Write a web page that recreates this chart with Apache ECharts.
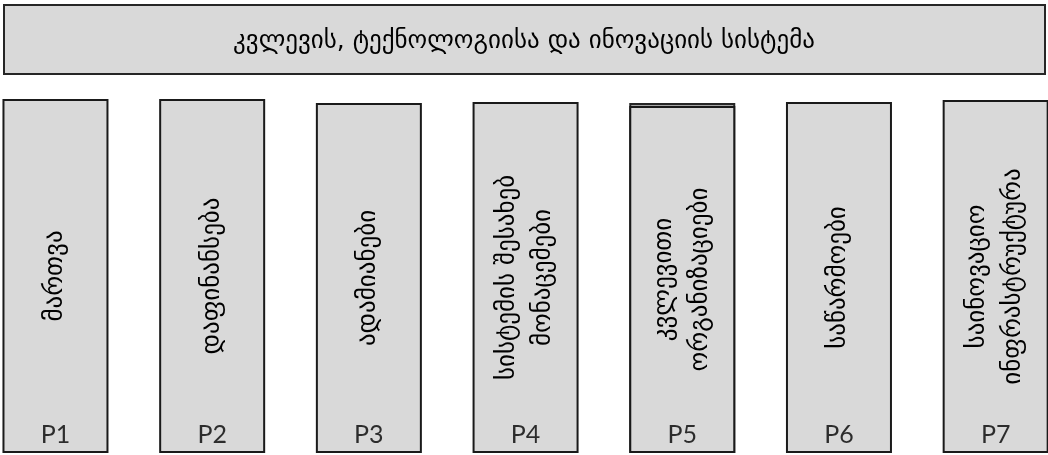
<!DOCTYPE html>
<html>
<head>
<meta charset="utf-8">
<script src="https://cdn.jsdelivr.net/npm/echarts@6/dist/echarts.min.js"></script>
<style>
html,body{margin:0;padding:0;background:#fff;}
#main{width:1048px;height:455px;}
</style>
</head>
<body>
<div id="main"></div>
<script>
const titleText = 'კვლევის, ტექნოლოგიისა და ინოვაციის სისტემა';
const categories = ['P1', 'P2', 'P3', 'P4', 'P5', 'P6', 'P7'];
const boxLabels = [
  'მართვა',
  'დაფინანსება',
  'ადამიანები',
  'სისტემის შესახებ\nმონაცემები',
  'კვლევითი\nორგანიზაციები',
  'საწარმოები',
  'საინოვაციო\nინფრასტრუქტურა'
];
const boxHeights = [354, 354, 350, 351, 347, 351, 353];
const backSheetHeights = [null, null, null, null, 350, null, null];

const georgianFont = '"DejaVu Sans", sans-serif';
const chart = echarts.init(document.getElementById('main'), null, {renderer: 'canvas'});

const option = {
  animation: false,
  backgroundColor: '#ffffff',
  title: {
    text: titleText,
    left: 'center',
    top: 24,
    textStyle: {fontFamily: georgianFont, fontSize: 25, fontWeight: 'normal', color: '#000'}
  },
  graphic: [{
    type: 'rect',
    z: -1,
    shape: {x: 4, y: 5, width: 1041, height: 69},
    style: {fill: '#d9d9d9', stroke: '#262626', lineWidth: 2}
  }],
  grid: {left: 0, right: 0, top: 99, bottom: 2},
  xAxis: {
    type: 'value',
    min: -0.354,
    max: 6.334,
    show: false
  },
  yAxis: {
    type: 'value',
    min: 0,
    max: 354,
    show: false
  },
  series: [
    {
      type: 'bar',
      data: backSheetHeights.map((v, i) => [i, v]),
      barWidth: 106,
      barGap: '-100%',
      itemStyle: {color: '#a6a6a6', borderColor: '#262626', borderWidth: 2},
      silent: true
    },
    {
      type: 'bar',
      barWidth: 106,
      barGap: '-100%',
      data: boxHeights.map((v, i) => ({
        value: [i, v],
        label: {
          formatter: boxLabels[i],
          padding: boxLabels[i].indexOf('\n') < 0 ? [0, 0, 22, 0] : 0
        }
      })),
      itemStyle: {color: '#d9d9d9', borderColor: '#1a1a1a', borderWidth: 2},
      label: {
        show: true,
        position: 'inside',
        rotate: 90,
        align: 'center',
        verticalAlign: 'middle',
        fontFamily: georgianFont,
        fontSize: 25,
        lineHeight: 36,
        color: '#000'
      }
    },
    {
      type: 'scatter',
      data: categories.map((c, i) => [i, 18]),
      symbolSize: 0,
      label: {
        show: true,
        position: 'inside',
        formatter: (p) => categories[p.dataIndex],
        fontFamily: 'Lato, "Open Sans", sans-serif',
        fontSize: 25,
        color: '#000'
      },
      z: 5
    }
  ]
};
chart.setOption(option);
</script>
</body>
</html>
